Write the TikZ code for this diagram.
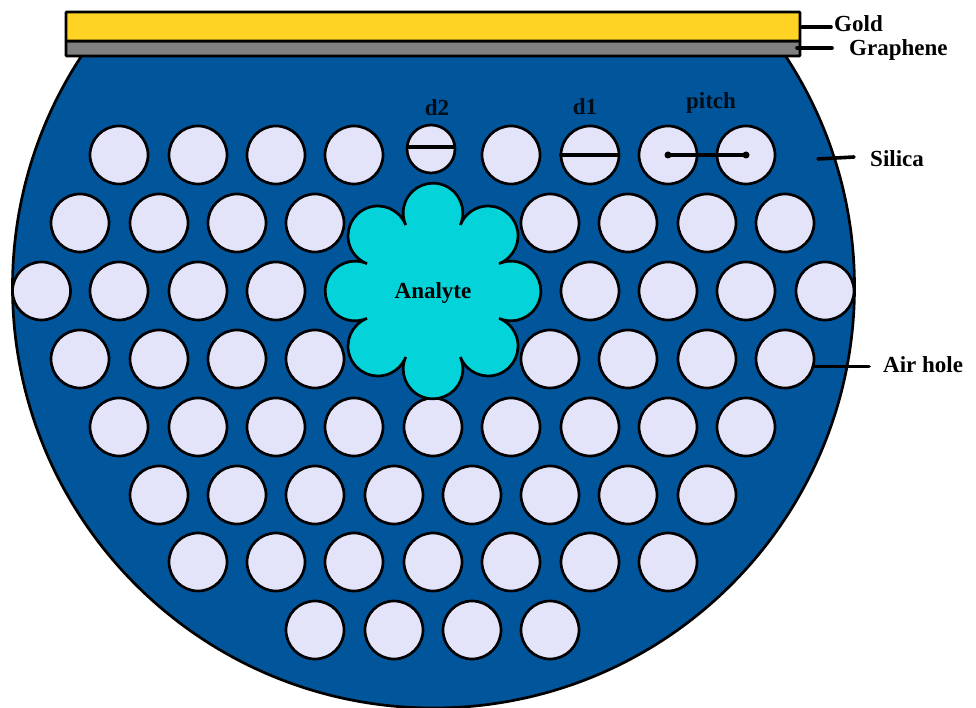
\documentclass[tikz,border=0pt]{standalone}
\usepackage{fontspec}
\setmainfont{Liberation Serif}
\definecolor{silica}{HTML}{01569B}
\definecolor{holefill}{HTML}{E3E3FA}
\definecolor{analyte}{HTML}{04D4DA}
\definecolor{goldc}{HTML}{FFD324}
\definecolor{graph}{HTML}{808080}
\tikzset{
  hole/.style={circle,draw=black,line width=2.7pt,fill=holefill,minimum size=58pt,inner sep=0pt},
  smallhole/.style={hole,minimum size=48pt},
  lab/.style={font=\bfseries\fontsize{23}{25}\selectfont,text=black,inner sep=0pt},
  labs/.style={lab,text=black!85!silica},
  leader/.style={line width=3.6pt,black,line cap=round},
  layer/.style={draw=black,line width=2.7pt,rounded corners=0.8pt}
}
\newcommand{\holerow}[2]{\foreach \hx in {#2} {\node[hole] (h\hx-#1) at (\hx,{707-#1}) {};}}
\begin{document}
\begin{tikzpicture}[x=1pt,y=1pt]
\useasboundingbox (0,0) rectangle (976,707);
\clip (0,0) rectangle (976,707);
\fill[white] (0,0) rectangle (976,707);
\begin{scope}
\clip (0,0) rectangle (976,{707-50});
\draw[fill=silica,draw=black,line width=2.7pt] (433.5,420) circle[radius=421];
\end{scope}
\holerow{155}{119,198,276,354,511,590,668,746}
\holerow{223}{80,159,237,315,550,628,707,785}
\holerow{291}{41.5,119,198,276,590,668,746,825}
\holerow{359}{80,159,237,315,550,628,707,785}
\holerow{427}{119,198,276,354,433,511,590,668,746}
\holerow{495}{159,237,315,394,472,550,628,707}
\holerow{562}{198,276,354,433,511,590,668}
\holerow{630}{315,394,472,550}
\node[smallhole] (d2hole) at (431,{707-149}) {};
\draw[draw=black,line width=2.7pt,fill=analyte,line join=miter]
  (433,416) ++(-22.5:71.5)
  \foreach \t in {0,45,...,315} { arc[start angle=\t-113.6,end angle=\t+113.6,radius=29.85] } -- cycle;
\node[lab] (analyte) at (433,{707-293}) {Analyte};
\draw[layer,fill=graph] (66,{707-56}) rectangle (800,{707-41});
\draw[layer,fill=goldc] (66,{707-41}) rectangle (800,{707-12});
\node[lab,anchor=west] (gold) at (834,{707-24}) {Gold};
\node[lab,anchor=west] (graphene) at (849,{707-50}) {Graphene};
\node[lab,anchor=west] (silicalab) at (870,{707-159}) {Silica};
\node[lab,anchor=west] (airhole) at (883,{707-365}) {Air hole};
\node[labs] (d2lab) at (437,{707-108}) {d2};
\node[labs] (d1lab) at (585,{707-107}) {d1};
\node[labs] (pitchlab) at (711,{707-103}) {pitch};
\coordinate (gs) at (802,{707-27});
\coordinate (ge) at (831,{707-27});
\coordinate (grs) at (797,{707-48});
\coordinate (gre) at (832,{707-48});
\coordinate (ss) at (818,{707-159});
\coordinate (se) at (854,{707-157});
\coordinate (as) at (815,{707-366.5});
\coordinate (ae) at (869,{707-366.5});
\coordinate (d2a) at (408,{707-147});
\coordinate (d2b) at (454,{707-147});
\coordinate (d1a) at (561,{707-155});
\coordinate (d1b) at (618,{707-155});
\coordinate (pa) at (668,{707-155});
\coordinate (pb) at (746,{707-155});
\draw[leader] (gs) -- (ge);
\draw[leader] (grs) -- (gre);
\draw[leader] (ss) -- (se);
\draw[leader] (as) -- (ae);
\draw[leader] (d2a) -- (d2b);
\draw[leader] (d1a) -- (d1b);
\draw[leader] (pa) -- (pb);
\fill (pa) circle[radius=3.5];
\fill (pb) circle[radius=3.5];
\end{tikzpicture}
\end{document}
